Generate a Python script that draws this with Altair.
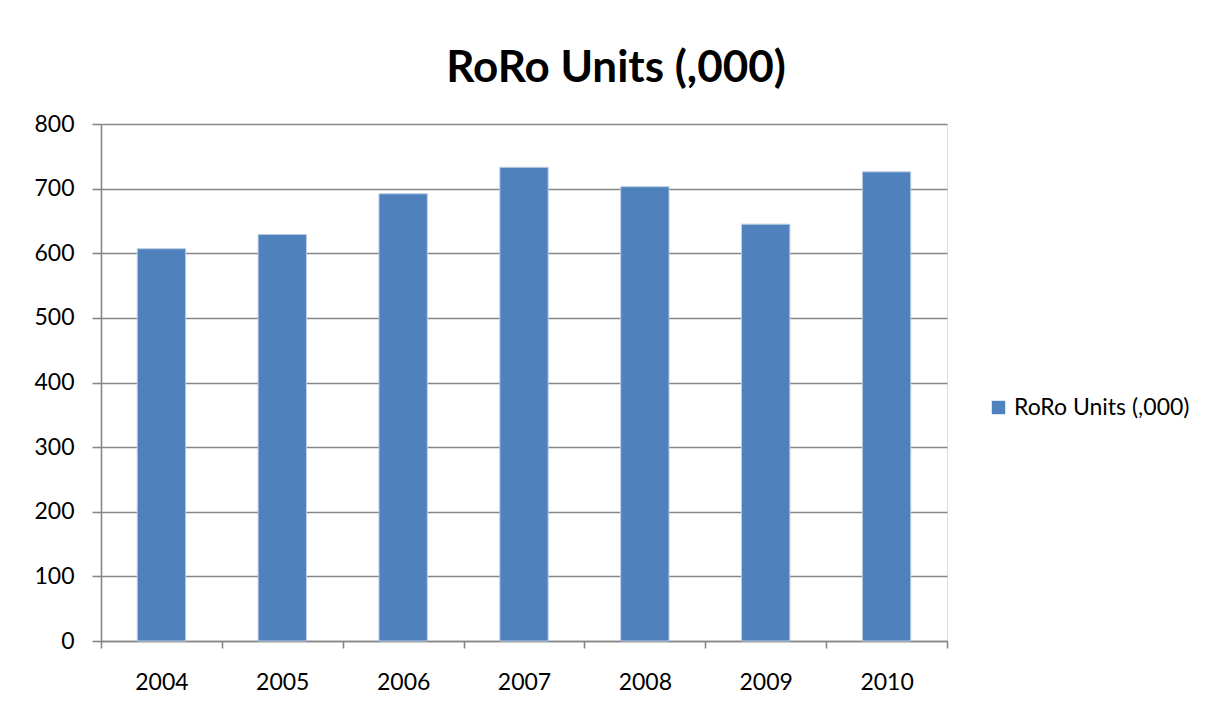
import altair as alt
import pandas as pd

years = ["2004", "2005", "2006", "2007", "2008", "2009", "2010"]
units = [607, 629, 692, 733, 703, 645, 726]
series_name = "RoRo Units (,000)"

df = pd.DataFrame({"year": years, "units": units, "series": [series_name] * len(years)})

FONT = "Lato"
GRAY = "#868686"

bars = alt.Chart(df).mark_bar(
    width={"band": 0.4}, stroke="#b9cde5", strokeWidth=1
).encode(
    x=alt.X("year:N", sort=years, title=None,
            scale=alt.Scale(paddingInner=0, paddingOuter=0),
            axis=alt.Axis(labelAngle=0, tickBand="extent", tickSize=7, tickColor=GRAY,
                          domainColor=GRAY, domainWidth=1.6, tickWidth=1.6,
                          labelPadding=23, labelFontSize=23, labelFont=FONT,
                          labelColor="black", grid=False)),
    y=alt.Y("units:Q", title=None,
            scale=alt.Scale(domain=[0, 800], nice=False),
            axis=alt.Axis(values=list(range(0, 801, 100)), tickSize=9, tickColor=GRAY,
                          tickWidth=1.6, domainColor=GRAY, domainWidth=1.6,
                          grid=True, gridColor=GRAY, gridWidth=1.6,
                          labelPadding=18, labelFontSize=23, labelFont=FONT,
                          labelColor="black")),
    color=alt.Color("series:N", title=None,
                    scale=alt.Scale(range=["#4F81BD"]),
                    legend=alt.Legend(orient="none", legendX=886, legendY=272,
                                      symbolType="square", symbolSize=180,
                                      symbolStrokeWidth=0,
                                      labelFontSize=23, labelFont=FONT,
                                      labelColor="black", labelLimit=400)),
)

chart = bars.properties(
    width=846, height=517,
    title=alt.TitleParams(series_name, font=FONT, fontSize=44, fontWeight="bold",
                          color="black", anchor="middle", offset=22, dx=92),
    autosize=alt.AutoSizeParams(type="none"),
    padding={"left": 93, "top": 116, "right": 255, "bottom": 60},
).configure_view(stroke=None).configure(background="white")

chart.save("out.html", embed_options={"renderer": "svg", "actions": False})
